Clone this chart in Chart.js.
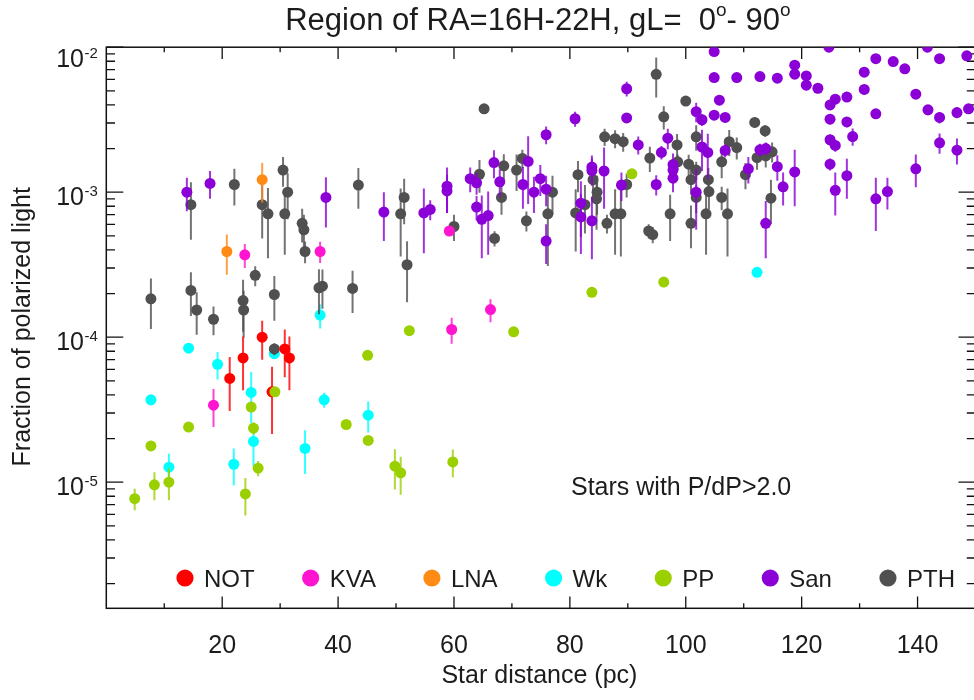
<!DOCTYPE html>
<html>
<head>
<meta charset="utf-8">
<title>Region of RA=16H-22H, gL= 0-90</title>
<style>
  html, body { margin: 0; padding: 0; background: #ffffff; overflow: hidden; }
  #wrap { width: 974px; height: 700px; overflow: hidden; position: relative; }
  canvas { display: block; }
</style>
<script src="https://cdn.jsdelivr.net/npm/chart.js@4.4.1/dist/chart.umd.min.js"></script>
</head>
<body>
<div id="wrap"><canvas id="chart" width="981" height="700"></canvas></div>
<script>
// ---- surveys ------------------------------------------------------------
const surveyNames  = ['NOT', 'KVA', 'LNA', 'Wk', 'PP', 'San', 'PTH'];
const surveyColors = ['#ff0000', '#ff14d0', '#ff8a14', '#00ffff', '#9bd000', '#8a00d6', '#505050'];

// distance (pc), fraction of polarized light P, and its error dP
const notDist = [21.3, 23.6, 26.9, 28.6, 30.8, 31.6];
const notPol  = [5.2e-5, 7.2e-5, 1.0e-4, 4.2e-5, 8.3e-5, 7.2e-5];
const notErr  = [2.1e-5, 2.9e-5, 3.0e-5, 2.05e-5, 3.0e-5, 2.9e-5];

const kvaDist = [18.5, 23.9, 36.9, 59.2, 59.6, 66.3];
const kvaPol  = [3.4e-5, 3.7e-4, 3.9e-4, 5.4e-4, 1.13e-4, 1.55e-4];
const kvaErr  = [1.0e-5, 0.7e-4, 0.65e-4, 0.4e-4, 0.23e-4, 0.28e-4];

const lnaDist = [20.8, 26.9];
const lnaPol  = [3.9e-4, 1.22e-3];
const lnaErr  = [1.2e-4, 0.37e-3];

const wkDist = [7.7, 10.8, 14.2, 19.2, 22.0, 25.0, 25.4, 29.0, 34.3, 36.9, 37.6, 45.2, 112.3];
const wkPol  = [3.7e-5, 1.27e-5, 8.4e-5, 6.5e-5, 1.33e-5, 4.16e-5, 1.91e-5, 7.7e-5, 1.71e-5, 1.42e-4, 3.7e-5, 2.9e-5, 2.8e-4];
const wkErr  = [3e-6, 3e-6, 5e-6, 1.4e-5, 3.8e-6, 1.6e-5, 6.2e-6, 6e-6, 5.7e-6, 2.7e-5, 4.4e-6, 7e-6, 2e-5];

const ppDist = [4.9, 7.7, 8.3, 10.8, 14.2, 24.0, 25.0, 25.4, 26.2, 29.1, 41.4, 45.1, 45.2, 49.8, 50.8, 52.3, 59.8, 70.3, 83.8, 90.7, 96.2];
const ppPol  = [7.7e-6, 1.78e-5, 9.6e-6, 1.0e-5, 2.4e-5, 8.3e-6, 3.3e-5, 2.36e-5, 1.25e-5, 4.2e-5, 2.5e-5, 7.5e-5, 1.94e-5, 1.29e-5, 1.16e-5, 1.11e-4, 1.38e-5, 1.09e-4, 2.04e-4, 1.34e-3, 2.4e-4];
const ppErr  = [1.3e-6, 1e-6, 2.1e-6, 2.5e-6, 1.5e-6, 2.4e-6, 2e-6, 2.3e-6, 1.5e-6, 3e-6, 1.5e-6, 5e-6, 1.2e-6, 4e-6, 3.4e-6, 8e-6, 3e-6, 8e-6, 1.2e-5, 8e-5, 1.5e-5];

const sanDist = [13.9, 17.9, 37.9, 47.9, 54.8, 55.9, 58.8, 58.8, 62.8, 63.9, 63.9, 64.8, 65.9, 66.9, 67.9,
  72.8, 71.9, 74.9, 73.8, 75.9, 75.9, 81.9, 81.9, 83.8, 83.8, 85.9, 83.8, 88.9, 80.9, 75.9,
  89.8, 89.8, 91.8, 96.9, 95.8, 94.9, 97.8, 97.8, 97.8, 101.8, 101.8, 102.8, 102.8, 103.8,
  104.9, 104.9, 108.8, 105.8, 104.9, 106.8, 106.8, 110.8, 112.8, 115.8, 118.8, 118.8, 120.8,
  120.8, 122.8, 124.9, 125.8, 127.8, 130.8, 130.8, 132.8, 135.8, 137.8, 143.8, 148.5, 139.7,
  141.8, 143.8, 146.8, 148.8, 124.9, 127.8, 124.9, 125.8, 128.8, 132.8, 124.9, 127.8, 125.8,
  132.8, 134.8, 139.7, 143.8, 146.8, 112.8, 113.8, 115.8, 116.8, 118.8, 113.8, 124.7, 141.7];
const sanPol = [1.0e-3, 1.15e-3, 9.2e-4, 7.3e-4, 7.2e-4, 7.6e-4, 1.1e-3, 1.02e-3, 1.24e-3, 1.16e-3, 7.9e-4, 6.5e-4, 6.9e-4, 1.6e-3, 1.18e-3,
  1.63e-3, 1.13e-3, 1.24e-3, 1.0e-3, 1.05e-3, 4.6e-4, 8.4e-4, 6.75e-4, 1.49e-3, 1.41e-3, 1.4e-3, 6.35e-4, 1.12e-3, 3.21e-3, 2.49e-3,
  5.17e-3, 3.25e-3, 2.12e-3, 2.36e-3, 1.88e-3, 1.13e-3, 1.55e-3, 1.42e-3, 1.25e-3, 3.59e-3, 1.0e-3, 3.16e-3, 2.05e-3, 1.88e-3,
  9.33e-3, 6.17e-3, 6.17e-3, 4.31e-3, 3.4e-3, 3.28e-3, 1.94e-3, 1.45e-3, 6.27e-3, 6.11e-3, 7.52e-3, 6.52e-3, 6.34e-3,
  5.47e-3, 5.21e-3, 4.0e-3, 4.38e-3, 4.53e-3, 6.72e-3, 5.11e-3, 8.34e-3, 7.96e-3, 7.1e-3, 8.34e-3, 8.72e-3, 4.74e-3,
  3.7e-3, 3.28e-3, 3.54e-3, 3.76e-3, 3.19e-3, 3.05e-3, 2.3e-3, 2.1e-3, 2.42e-3, 3.47e-3, 1.56e-3, 1.3e-3, 1.03e-3,
  9.0e-4, 1.01e-3, 1.45e-3, 2.19e-3, 1.95e-3, 1.96e-3, 2.0e-3, 1.5e-3, 1.09e-3, 1.38e-3, 6.1e-4, 1.0e-2, 1.0e-2];
const sanErr = [0.26e-3, 0.25e-3, 3.5e-4, 2.7e-4, 3.4e-4, 1.2e-4, 0.38e-3, 0.3e-3, 0.24e-3, 0.2e-3, 1.5e-4, 3.0e-4, 3.2e-4, 0.35e-3, 0.26e-3,
  0.8e-3, 0.36e-3, 0.3e-3, 0.28e-3, 0.25e-3, 1.4e-4, 3.5e-4, 3.0e-4, 0.3e-3, 0.3e-3, 0.63e-3, 2.9e-4, 0.25e-3, 0.38e-3, 0.35e-3,
  0.6e-3, 0.25e-3, 0.3e-3, 0.38e-3, 0.2e-3, 0.18e-3, 0.3e-3, 0.2e-3, 0.25e-3, 0.55e-3, 0.45e-3, 0.3e-3, 0.65e-3, 0.65e-3,
  0.3e-3, 0.3e-3, 0.3e-3, 0.3e-3, 0.25e-3, 0.25e-3, 0.2e-3, 0.3e-3, 0.4e-3, 0.4e-3, 0.4e-3, 0.4e-3, 0.4e-3,
  0.4e-3, 0.4e-3, 0.3e-3, 0.3e-3, 0.3e-3, 0.4e-3, 0.4e-3, 0.5e-3, 0.5e-3, 0.5e-3, 0.5e-3, 0.5e-3, 0.3e-3,
  0.3e-3, 0.3e-3, 0.3e-3, 0.3e-3, 0.25e-3, 0.25e-3, 0.2e-3, 0.2e-3, 0.33e-3, 0.25e-3, 0.15e-3, 0.4e-3, 0.34e-3,
  3.6e-4, 0.25e-3, 0.37e-3, 0.35e-3, 0.4e-3, 0.2e-3, 0.2e-3, 0.3e-3, 0.28e-3, 0.58e-3, 2.6e-4, 0.5e-3, 0.5e-3];

const pthDist = [7.7, 14.6, 14.6, 15.6, 18.5, 22.1, 25.7, 23.6, 23.7, 26.9, 27.9, 29.0, 29.0, 30.5, 31.3, 30.8,
  33.8, 34.1, 34.3, 36.7, 37.3, 42.5, 43.5, 51.4, 50.8, 51.9, 60.0, 64.4, 65.2, 67.0, 68.6, 68.2,
  70.8, 71.8, 72.5, 76.2, 77.0, 81.4, 84.0, 84.7, 84.6, 82.6, 81.0, 86.4, 87.8, 88.8, 89.8, 86.0,
  87.8, 89.2, 93.8, 93.6, 94.3, 94.9, 100.0, 96.2, 98.5, 101.8, 107.5, 108.8, 111.9, 112.3, 113.8,
  114.9, 113.7, 114.7, 100.5, 100.9, 101.8, 101.8, 100.9, 103.5, 103.9, 104.0, 106.2, 106.2, 107.2,
  110.3, 97.3, 98.6];
const pthPol = [1.84e-4, 8.2e-4, 2.1e-4, 1.54e-4, 1.33e-4, 1.13e-3, 2.67e-4, 1.79e-4, 1.54e-4, 8.2e-4, 7.1e-4, 1.97e-4, 8.3e-5, 1.42e-3, 1.0e-3, 7.1e-4,
  6.1e-4, 5.5e-4, 3.9e-4, 2.19e-4, 2.25e-4, 2.17e-4, 1.12e-3, 9.2e-4, 7.1e-4, 3.16e-4, 5.8e-4, 1.33e-3, 3.76e-3, 4.8e-4, 1.52e-3, 9.2e-4,
  1.42e-3, 1.71e-3, 6.35e-4, 7.1e-4, 1.0e-3, 1.32e-3, 1.22e-3, 1.0e-3, 9.0e-4, 8.2e-4, 7.2e-4, 6.1e-4, 7.1e-4, 7.1e-4, 1.13e-3, 2.41e-3,
  2.34e-3, 2.23e-3, 1.72e-3, 5.4e-4, 5.1e-4, 6.5e-3, 4.25e-3, 3.31e-3, 2.12e-3, 2.41e-3, 2.23e-3, 2.03e-3, 3.03e-3, 1.73e-3, 1.78e-3,
  1.9e-3, 2.65e-3, 9.1e-4, 1.56e-3, 1.22e-3, 1.42e-3, 9.2e-4, 6.1e-4, 7.1e-4, 1.22e-3, 1.01e-3, 1.62e-3, 9.2e-4, 7.1e-4,
  1.32e-3, 7.1e-4, 1.62e-3];
const pthErr = [0.7e-4, 3.5e-4, 0.7e-4, 0.5e-4, 0.3e-4, 0.32e-3, 0.42e-4, 0.7e-4, 0.55e-4, 3.4e-4, 3.6e-4, 0.67e-4, 0.8e-5, 0.33e-3, 0.35e-3, 3.4e-4,
  1.6e-4, 1.5e-4, 0.67e-4, 0.75e-4, 0.68e-4, 0.7e-4, 0.35e-3, 3.2e-4, 3.5e-4, 1.42e-4, 1.2e-4, 0.34e-3, 0.3e-3, 0.57e-4, 0.31e-3, 2.2e-4,
  0.4e-3, 0.25e-3, 1.0e-4, 4.0e-4, 0.3e-3, 0.32e-3, 0.37e-3, 0.3e-3, 3.5e-4, 3.0e-4, 3.3e-4, 0.9e-4, 3.4e-4, 3.5e-4, 0.21e-3, 0.33e-3,
  0.33e-3, 0.33e-3, 0.34e-3, 0.6e-4, 0.65e-4, 2.0e-3, 0.3e-3, 0.6e-3, 0.4e-3, 0.48e-3, 0.45e-3, 0.35e-3, 0.25e-3, 0.3e-3, 0.3e-3,
  0.3e-3, 0.25e-3, 3.1e-4, 0.25e-3, 0.26e-3, 0.2e-3, 2.0e-4, 2.0e-4, 3.4e-4, 0.25e-3, 0.25e-3, 0.37e-3, 1.7e-4, 3.5e-4,
  0.27e-3, 2.5e-4, 0.2e-3];

// ---- axes -----------------------------------------------------------------
const xTickValues   = [20, 40, 60, 80, 100, 120, 140];
const yTickExponent = [-2, -3, -4, -5];
const titleRuns = [
  { t: 'Region of RA=16H-22H, gL=  0' }, { t: 'o', sup: true },
  { t: '- 90' }, { t: 'o', sup: true }
];
const xTitle = 'Star distance (pc)';
const yTitle = 'Fraction of polarized light';
const note   = 'Stars with P/dP>2.0';

const FONT = '"Liberation Sans", Arial, Helvetica, sans-serif';
const INK  = '#1c1c1c';

// drawing order: the first survey listed ends up on top
const drawOrder = { PP: 0, LNA: 1, KVA: 2, NOT: 3, San: 4, PTH: 5, Wk: 6 };

function pack(dist, pol, err) {
  return dist.map((d, i) => ({ x: d, y: pol[i], err: err[i] }));
}
const seriesData = [
  pack(notDist, notPol, notErr), pack(kvaDist, kvaPol, kvaErr), pack(lnaDist, lnaPol, lnaErr),
  pack(wkDist, wkPol, wkErr), pack(ppDist, ppPol, ppErr), pack(sanDist, sanPol, sanErr),
  pack(pthDist, pthPol, pthErr)
];

const datasets = surveyNames.map((name, i) => ({
  label: name,
  data: seriesData[i],
  backgroundColor: surveyColors[i],
  borderColor: surveyColors[i],
  pointBackgroundColor: surveyColors[i],
  pointBorderWidth: 0,
  pointRadius: 5.5,
  pointHoverRadius: 5.5,
  showLine: false,
  order: drawOrder[name]
}));

function drawRuns(ctx, runs, x, y, size, align) {
  const supSize = Math.round(size * 0.6);
  const widths = runs.map(r => {
    ctx.font = (r.sup ? supSize : size) + 'px ' + FONT;
    return ctx.measureText(r.t).width;
  });
  const total = widths.reduce((a, b) => a + b, 0);
  let cx = align === 'center' ? x - total / 2 : (align === 'right' ? x - total : x);
  ctx.textAlign = 'left';
  ctx.textBaseline = 'alphabetic';
  runs.forEach((r, i) => {
    ctx.font = (r.sup ? supSize : size) + 'px ' + FONT;
    ctx.fillText(r.t, cx, r.sup ? y - size * 0.42 : y);
    cx += widths[i];
  });
}

const errorBars = {
  id: 'errorBars',
  beforeDatasetDraw(chart, args) {
    const ctx = chart.ctx, a = chart.chartArea;
    const xs = chart.scales.x, ys = chart.scales.y;
    const ds = chart.data.datasets[args.index];
    ctx.save();
    ctx.beginPath();
    ctx.rect(a.left, a.top, a.right - a.left, a.bottom - a.top);
    ctx.clip();
    ctx.strokeStyle = ds.borderColor;
    ctx.globalAlpha = 0.8;
    ctx.lineWidth = 2;
    ds.data.forEach(p => {
      const px = xs.getPixelForValue(p.x);
      const lo = Math.max(p.y - p.err, ys.min * 0.5);
      ctx.beginPath();
      ctx.moveTo(px, ys.getPixelForValue(p.y + p.err));
      ctx.lineTo(px, ys.getPixelForValue(lo));
      ctx.stroke();
    });
    ctx.restore();
  }
};

const frame = {
  id: 'frame',
  beforeDatasetsDraw(chart) {
    const ctx = chart.ctx, a = chart.chartArea;
    const xs = chart.scales.x, ys = chart.scales.y;
    ctx.save();
    ctx.strokeStyle = '#111';
    ctx.lineWidth = 1.5;
    ctx.strokeRect(a.left, a.top, a.right - a.left, a.bottom - a.top);
    ctx.lineWidth = 1.3;
    ctx.beginPath();
    // logarithmic ticks, left and right
    for (let k = -6; k <= -2; k++) {
      for (let m = 1; m <= 9; m++) {
        const v = m * Math.pow(10, k);
        if (v < ys.min || v > ys.max * 1.0001) continue;
        const py = ys.getPixelForValue(v);
        const len = m === 1 ? 17 : 8.7;
        ctx.moveTo(a.left, py); ctx.lineTo(a.left + len, py);
        ctx.moveTo(a.right, py); ctx.lineTo(a.right - len, py);
      }
    }
    // distance ticks, bottom and top
    for (let v = 10; v < xs.max; v += 10) {
      const px = xs.getPixelForValue(v);
      const len = v % 20 === 0 ? 11.7 : 5;
      ctx.moveTo(px, a.bottom); ctx.lineTo(px, a.bottom - len);
      ctx.moveTo(px, a.top); ctx.lineTo(px, a.top + len);
    }
    ctx.stroke();
    ctx.restore();
  },
  afterDraw(chart) {
    const ctx = chart.ctx, a = chart.chartArea;
    const xs = chart.scales.x, ys = chart.scales.y;
    ctx.save();
    ctx.fillStyle = INK;

    // y tick labels 10^k
    yTickExponent.forEach(k => {
      const py = ys.getPixelForValue(Math.pow(10, k));
      const base = Math.max(py + 12.6, a.top + 19.7);
      ctx.font = '25px ' + FONT;
      const w10 = ctx.measureText('10').width;
      ctx.font = '15px ' + FONT;
      const sup = String(k);
      const wS = ctx.measureText(sup).width;
      const x0 = a.left - 9 - wS - w10;
      ctx.textAlign = 'left'; ctx.textBaseline = 'alphabetic';
      ctx.font = '25px ' + FONT;
      ctx.fillText('10', x0, base);
      ctx.font = '15px ' + FONT;
      ctx.fillText(sup, x0 + w10 + 0.5, base - 8.5);
    });

    // x tick labels
    ctx.font = '25px ' + FONT;
    ctx.textAlign = 'center'; ctx.textBaseline = 'alphabetic';
    xTickValues.forEach(v => ctx.fillText(String(v), xs.getPixelForValue(v), 653));

    // axis titles
    ctx.fillText(xTitle, (a.left + a.right) / 2 - 1.5, 683.3);
    ctx.save();
    ctx.translate(30, (a.top + a.bottom) / 2 - 1);
    ctx.rotate(-Math.PI / 2);
    ctx.fillText(yTitle, 0, 0);
    ctx.restore();

    // title
    drawRuns(ctx, titleRuns, (a.left + a.right) / 2 - 3, 29.5, 31, 'center');

    // note
    ctx.font = '25px ' + FONT;
    ctx.textAlign = 'left';
    ctx.fillText(note, 571, 495);

    // legend
    let lx = 185;
    const ly = 578;
    ctx.font = '24px ' + FONT;
    chart.data.datasets.forEach(ds => {
      ctx.fillStyle = ds.backgroundColor;
      ctx.beginPath();
      ctx.arc(lx, ly, 8.6, 0, Math.PI * 2);
      ctx.fill();
      ctx.fillStyle = INK;
      ctx.textAlign = 'left';
      ctx.fillText(ds.label, lx + 19, ly + 8.7);
      lx += 19 + ctx.measureText(ds.label).width + 56;
    });
    ctx.restore();
  }
};

new Chart(document.getElementById('chart'), {
  type: 'scatter',
  data: { datasets },
  options: {
    responsive: false,
    animation: false,
    devicePixelRatio: 1,
    layout: { padding: { top: 47.2, left: 0, right: 0.2, bottom: 0 } },
    plugins: { legend: { display: false }, tooltip: { enabled: false }, title: { display: false } },
    scales: {
      x: {
        type: 'linear', min: 0, max: 150,
        grid: { display: false }, border: { display: false }, ticks: { display: false },
        afterFit(s) { s.height = 91.7; }
      },
      y: {
        type: 'logarithmic', min: 1.35e-6, max: 1e-2,
        grid: { display: false }, border: { display: false }, ticks: { display: false },
        afterFit(s) { s.width = 106.3; }
      }
    }
  },
  plugins: [errorBars, frame]
});
</script>
</body>
</html>
